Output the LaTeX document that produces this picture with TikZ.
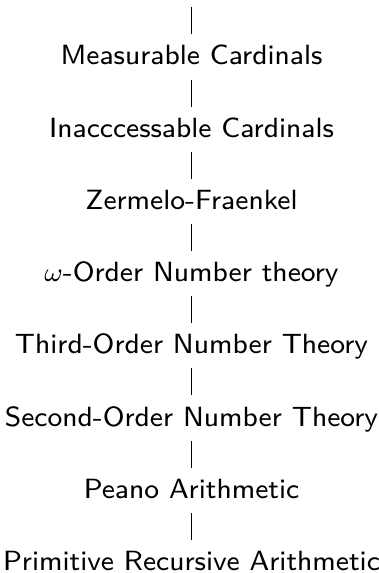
\documentclass[tikz,border=0pt]{standalone}
\begin{document}
\begin{tikzpicture}[x=0.302pt,y=-0.302pt,
  level/.style={font=\sffamily\fontsize{8.4}{10}\selectfont, anchor=base,
    inner xsep=2pt, inner ysep=0pt, text height=9.06pt, text depth=4.23pt},
  link/.style={draw, line width=0.32pt}]
\useasboundingbox (0,0) rectangle (378,573);
\coordinate (top) at (191.5,7);
\node[level] (n1) at (191.5,65.0)  {Measurable Cardinals};
\node[level] (n2) at (191.5,137.2) {Inacccessable Cardinals};
\node[level] (n3) at (191.5,209.4) {Zermelo-Fraenkel};
\node[level] (n4) at (191.5,281.6) {$\omega$-Order Number theory};
\node[level] (n5) at (191.5,353.8) {Third-Order Number Theory};
\node[level] (n6) at (191.5,426.0) {Second-Order Number Theory};
\node[level] (n7) at (191.5,498.2) {Peano Arithmetic};
\node[level] (n8) at (191.5,570.4) {Primitive Recursive Arithmetic};
\draw[link] (top) -- (n1);
\foreach \a/\b in {n1/n2,n2/n3,n3/n4,n4/n5,n5/n6,n6/n7,n7/n8}
  \draw[link] (\a) -- (\b);
\end{tikzpicture}
\end{document}
